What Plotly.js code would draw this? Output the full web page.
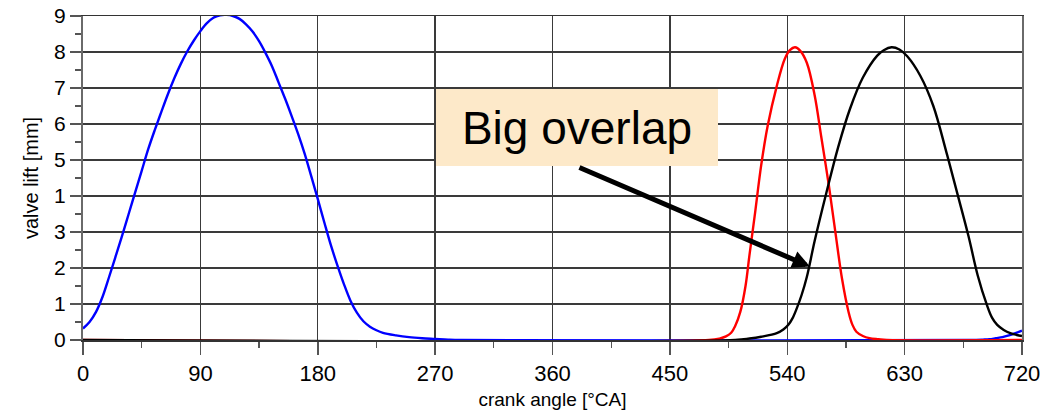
<!DOCTYPE html>
<html>
<head>
<meta charset="utf-8">
<script src="https://cdn.plot.ly/plotly-3.0.1.min.js"></script>
<style>
  html, body { margin: 0; padding: 0; background: #ffffff; }
  #chart { width: 1047px; height: 411px; }
</style>
</head>
<body>
<div id="chart"></div>
<script>
// ---- data ----
const intakeAngle = [0,5,10,15,20,25,30,35,40,45,50,55,60,65,70,75,80,85,90,95,100,105,110,115,120,125,130,135,140,145,150,155,160,165,170,175,180,185,190,195,200,205,210,215,220,225,230,240,250,260,270,280,290,680,690,695,700,705,710,715,720];
const intakeLift  = [0.32,0.5,0.78,1.2,1.75,2.32,2.9,3.5,4.1,4.7,5.3,5.83,6.33,6.82,7.27,7.67,8.02,8.32,8.58,8.8,8.95,9.02,9.03,9.0,8.92,8.77,8.57,8.3,7.97,7.6,7.15,6.7,6.22,5.72,5.17,4.55,3.92,3.27,2.64,2.08,1.56,1.1,0.76,0.52,0.37,0.27,0.2,0.13,0.08,0.05,0.03,0.01,0,0,0.01,0.02,0.05,0.08,0.13,0.19,0.26];

const redAngle = [0,480,488,493,497,500,504,508,511,515,520,525,532,538,542,546,550,555,561,566,572,577,582,587,590,593,598,603,610,616,720];
const redLift  = [0,0,0.04,0.1,0.2,0.38,0.78,1.5,2.35,3.44,4.85,5.95,7.06,7.8,8.05,8.13,8.03,7.7,6.8,5.66,4.27,2.97,1.7,0.78,0.42,0.23,0.11,0.05,0.02,0,0];

const blackAngle = [0,500,511,520,532,537,541,544,547,551,555,561,570,579,588,598,609,614,620,626,632,642,652,662,671,679,686,693,697,701,706,711,716,720];
const blackLift  = [0,0,0.04,0.09,0.19,0.29,0.43,0.6,0.85,1.25,1.75,2.75,4.09,5.35,6.41,7.29,7.9,8.05,8.13,8.07,7.88,7.34,6.5,5.22,3.99,2.88,1.8,0.98,0.62,0.42,0.28,0.19,0.14,0.11];

const xTickVals  = [0,90,180,270,360,450,540,630,720];
const xTickText  = ['0','90','180','270','360','450','540','630','720'];
const yTickVals  = [0,1,2,3,4,5,6,7,8,9];
const yTickText  = ['0','1','2','3','1','5','6','7','8','9'];

const calloutText = 'Big overlap';
const xTitle = 'crank angle [°CA]';
const yTitle = 'valve lift [mm]';

const FONT = 'Liberation Sans, Arial, sans-serif';

const traces = [
  {x: intakeAngle, y: intakeLift, type: 'scatter', mode: 'lines', line: {color: '#0000ff', width: 2.4, shape: 'spline', smoothing: 1}, hoverinfo: 'skip'},
  {x: redAngle, y: redLift, type: 'scatter', mode: 'lines', line: {color: '#ff0000', width: 2.4, shape: 'spline', smoothing: 1}, hoverinfo: 'skip'},
  {x: blackAngle, y: blackLift, type: 'scatter', mode: 'lines', line: {color: '#000000', width: 2.4, shape: 'spline', smoothing: 1}, hoverinfo: 'skip'}
];

const layout = {
  width: 1047, height: 411,
  margin: {l: 83, r: 25, t: 16, b: 71, pad: 0},
  paper_bgcolor: '#ffffff', plot_bgcolor: '#ffffff',
  showlegend: false,
  font: {family: FONT, color: '#000000'},
  xaxis: {
    range: [0, 720], autorange: false,
    tickmode: 'array', tickvals: xTickVals, ticktext: xTickText,
    ticks: 'outside', ticklen: 13, tickwidth: 1.5, tickcolor: '#555555',
    minor: {dtick: 45, tick0: 0, ticks: 'outside', ticklen: 6, tickwidth: 1.2, tickcolor: '#555555', showgrid: false},
    showgrid: true, gridcolor: '#3a3a3a', gridwidth: 1.4,
    showline: true, linecolor: '#333333', linewidth: 1.5, mirror: true,
    zeroline: false,
    tickfont: {family: FONT, size: 22, color: '#000000'},
    title: {text: xTitle, font: {family: FONT, size: 19, color: '#000000'}, standoff: 8}
  },
  yaxis: {
    range: [0, 9], autorange: false,
    tickmode: 'array', tickvals: yTickVals, ticktext: yTickText,
    ticks: 'outside', ticklen: 11, tickwidth: 1.5, tickcolor: '#555555',
    minor: {dtick: 0.5, tick0: 0, ticks: 'outside', ticklen: 6, tickwidth: 1.2, tickcolor: '#555555', showgrid: false},
    showgrid: true, gridcolor: '#3a3a3a', gridwidth: 1.4,
    showline: true, linecolor: '#6a6a6a', linewidth: 2, mirror: true,
    zeroline: false,
    tickfont: {family: FONT, size: 21, color: '#000000'},
    title: {text: yTitle, font: {family: FONT, size: 20, color: '#000000'}, standoff: 10}
  },
  annotations: [
    {
      xref: 'paper', yref: 'paper', x: 0.3759, y: 0.7738, xanchor: 'left', yanchor: 'top',
      text: calloutText, showarrow: false,
      font: {family: FONT, size: 46, color: '#000000'},
      bgcolor: '#fde9c9', borderwidth: 0, borderpad: 0,
      width: 282, height: 77, align: 'center', valign: 'middle'
    },
    {
      xref: 'x', yref: 'y', axref: 'x', ayref: 'y',
      x: 557.4, y: 2.04, ax: 379.5, ay: 4.81,
      text: '', showarrow: true, arrowhead: 2, arrowsize: 0.7, arrowwidth: 5, arrowcolor: '#000000', standoff: 0
    }
  ]
};

Plotly.newPlot('chart', traces, layout, {staticPlot: true, displayModeBar: false});
</script>
</body>
</html>
